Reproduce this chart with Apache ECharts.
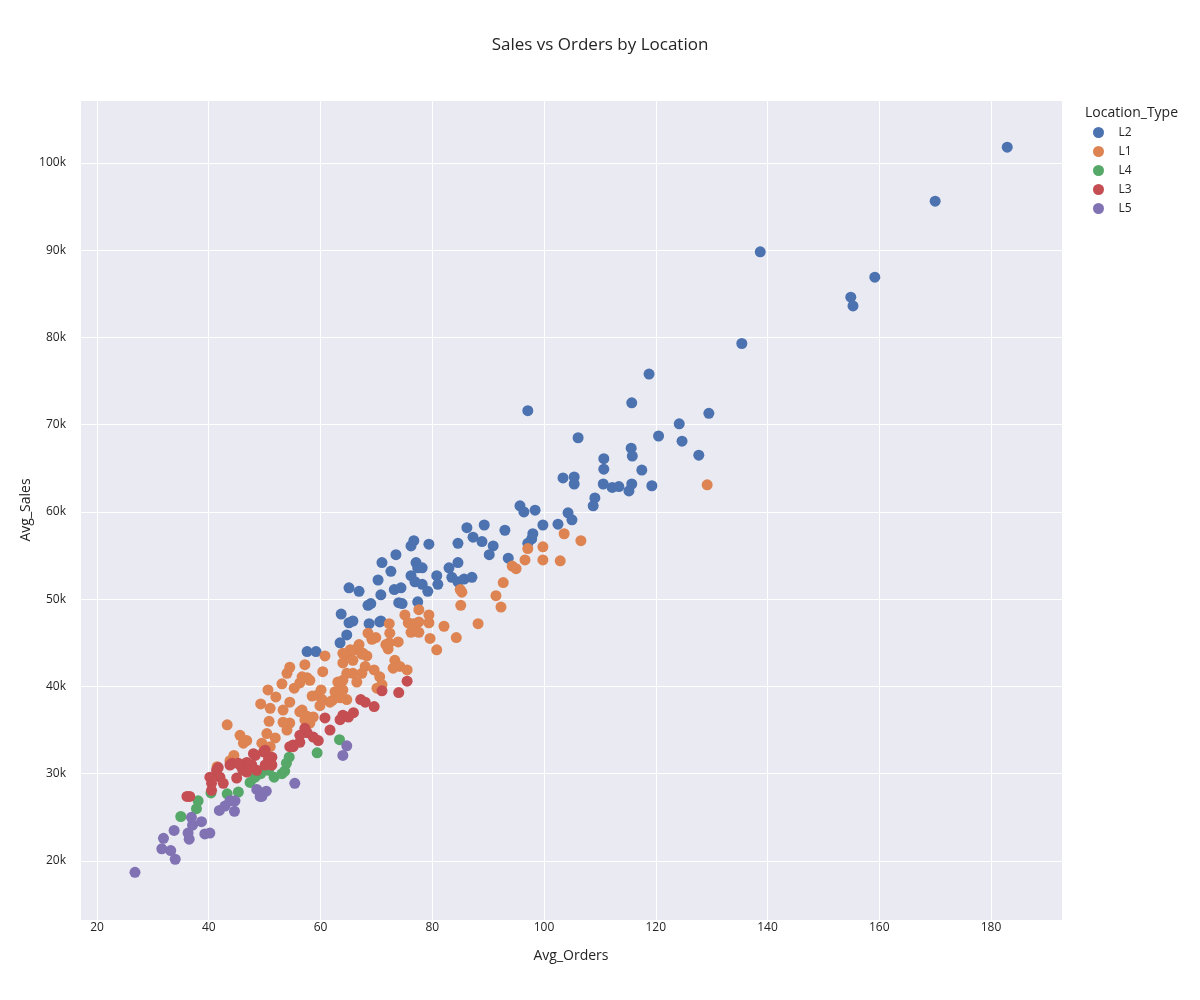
<!DOCTYPE html>
<html>
<head>
<meta charset="utf-8">
<script src="https://cdn.jsdelivr.net/npm/echarts@6/dist/echarts.min.js"></script>
<style>html,body{margin:0;padding:0;background:#fff;}#c{width:1200px;height:1000px;}</style>
</head>
<body>
<div id="c"></div>
<script>
// Location types in legend order
const locationTypes = ['L2', 'L1', 'L4', 'L3', 'L5'];
// Avg_Orders / Avg_Sales (thousands) per location type
const l2Orders = [182.9,170.0,138.7,159.2,154.9,155.3,135.4,118.8,97.1,129.5,115.7,124.2,106.1,120.5,124.7,115.6,115.8,127.7,110.7,110.7,117.5,103.4,105.4,105.4,110.6,112.2,113.4,115.7,115.2,119.3,109.1,108.8,104.3,105.0,102.5,99.8,95.7,96.4,98.4,93.0,98.0,97.8,97.1,93.6,89.3,86.2,87.3,88.9,90.9,90.2,84.6,84.6,83.0,83.5,84.6,85.7,87.1,79.4,76.7,76.2,73.5,71.0,72.6,70.3,77.1,77.4,78.2,76.2,76.9,78.2,79.2,80.8,81.0,73.2,74.4,70.8,74.0,74.6,77.4,70.8,65.1,66.9,68.5,69.0,63.7,65.1,65.8,68.7,70.6,64.7,63.5,57.6,59.2];
const l2Sales = [101.8,95.6,89.8,86.9,84.6,83.6,79.3,75.8,71.6,71.3,72.5,70.1,68.5,68.7,68.1,67.3,66.4,66.5,66.1,64.9,64.8,63.9,64.0,63.2,63.2,62.8,62.9,63.2,62.4,63.0,61.6,60.7,59.9,59.1,58.6,58.5,60.7,60.0,60.2,57.9,57.5,56.9,56.4,54.7,58.5,58.2,57.1,56.6,56.1,55.1,56.4,54.2,53.6,52.5,52.0,52.3,52.5,56.3,56.7,56.1,55.1,54.2,53.2,52.2,54.2,53.6,53.6,52.7,52.0,51.7,50.9,52.7,51.7,51.1,51.3,50.5,49.6,49.5,49.7,47.5,51.3,50.9,49.3,49.5,48.3,47.3,47.5,47.2,47.4,45.9,45.0,44.0,44.0];

const l1Orders = [129.2,106.6,103.6,99.8,97.1,96.6,99.8,102.9,94.3,95.0,92.7,91.4,92.3,85.0,85.3,85.1,88.2,82.1,84.3,77.6,79.4,79.4,75.1,75.7,72.3,76.7,77.6,76.2,77.6,79.6,72.4,80.8,72.3,73.9,72.1,68.5,69.9,69.2,71.7,66.9,66.2,64.7,65.3,67.4,68.3,64.0,65.8,64.0,67.6,60.8,57.2,57.6,58.1,60.4,68.0,69.6,67.4,65.8,64.7,64.0,66.5,63.1,70.6,71.0,70.1,73.3,73.0,74.2,75.5,60.1,59.4,58.5,60.3,62.6,64.0,63.5,64.7,62.1,61.7,59.9,56.7,57.6,58.7,54.0,54.5,53.1,55.3,56.3,56.7,50.6,52.0,49.3,54.5,51.0,53.3,56.3,50.8,53.3,54.5,57.2,58.1,43.3,54.0,51.9,50.4,45.6,49.5,46.2,46.8,51.0,44.5,43.8,41.5];
const l1Sales = [63.1,56.7,57.5,56.0,55.8,54.5,54.5,54.4,53.8,53.5,51.9,50.4,49.1,51.1,50.8,49.3,47.2,46.9,45.6,48.8,48.2,47.3,48.2,47.3,47.2,47.2,47.4,46.2,46.2,45.5,46.1,44.2,45.0,45.1,44.3,46.1,45.6,45.4,44.8,44.8,44.2,43.6,44.2,43.7,43.5,42.7,43.0,43.8,43.8,43.5,42.5,41.0,40.7,41.7,42.3,41.9,41.5,41.5,41.5,40.7,40.5,40.5,41.1,40.2,39.8,43.0,42.1,42.3,41.9,39.6,39.0,38.9,38.5,39.4,39.6,38.7,38.5,38.4,38.2,37.8,37.3,36.6,36.5,41.5,42.2,40.3,39.8,40.4,41.1,39.6,38.8,38.0,38.2,37.5,37.3,37.1,36.0,35.9,35.8,36.2,35.8,35.6,35.0,34.1,34.6,34.4,33.5,33.5,33.8,33.1,32.1,31.5,30.8];

const l4Orders = [35.0,37.8,38.1,40.4,43.3,45.3,47.4,48.3,49.3,50.7,51.7,53.1,53.6,53.9,54.4,59.4,63.4];
const l4Sales = [25.1,26.0,26.9,27.8,27.7,27.9,29.0,29.6,30.0,30.4,29.6,30.0,30.3,31.2,31.9,32.4,33.9];

const l3Orders = [75.5,74.0,71.0,69.6,67.2,68.0,65.9,65.0,64.0,63.5,60.8,61.7,58.7,57.6,57.2,56.3,56.3,55.1,54.5,59.6,50.1,49.8,51.3,50.7,50.1,51.3,48.3,48.0,46.8,46.1,48.6,45.6,44.2,43.8,45.3,46.8,47.7,41.7,41.4,40.2,42.0,40.5,42.6,40.5,45.0,36.1,36.6,55.1];
const l3Sales = [40.6,39.3,39.5,37.7,38.5,38.2,37.0,36.5,36.7,36.2,36.4,35.0,34.2,34.7,35.2,34.4,33.6,33.1,33.1,33.8,32.7,32.5,31.9,31.7,31.0,31.0,32.1,32.3,31.3,30.4,30.4,31.0,31.2,31.0,31.2,30.2,31.0,30.7,30.4,29.6,29.6,28.9,28.9,28.1,29.5,27.4,27.4,33.3];

const l5Orders = [26.8,31.9,31.6,33.2,34.0,33.8,36.3,36.5,36.9,37.1,38.7,39.3,40.2,41.9,42.9,43.8,44.7,44.6,48.6,49.2,49.5,50.3,55.4,64.0,64.7];
const l5Sales = [18.7,22.6,21.4,21.2,20.2,23.5,23.2,22.5,25.0,24.1,24.5,23.1,23.2,25.8,26.3,26.9,26.9,25.7,28.2,27.4,27.4,28.0,28.9,32.1,33.2];

const ordersBy = [l2Orders, l1Orders, l4Orders, l3Orders, l5Orders];
const salesBy = [l2Sales, l1Sales, l4Sales, l3Sales, l5Sales];
const colors = ['#4C72B0', '#DD8452', '#55A868', '#C44E52', '#8172B3'];

const txt = 'rgb(36,36,36)';
const font = '"Open Sans", sans-serif';

const chart = echarts.init(document.getElementById('c'), null, {renderer: 'canvas'});
chart.setOption({
  animation: false,
  backgroundColor: '#ffffff',
  textStyle: {fontFamily: font},
  title: [
    {text: 'Sales vs Orders by Location', left: 'center', top: 37, padding: 0,
     textStyle: {fontFamily: font, fontSize: 17, fontWeight: 'normal', color: txt}},
    {text: 'Location_Type', left: 1085, top: 106, padding: 0,
     textStyle: {fontFamily: font, fontSize: 14, fontWeight: 'normal', color: txt}}
  ],
  legend: {
    orient: 'vertical', left: 1093, top: 126.5, padding: 0,
    itemWidth: 20, itemHeight: 11, itemGap: 7, icon: 'circle',
    data: locationTypes,
    textStyle: {fontFamily: font, fontSize: 12, color: txt, padding: [0, 0, 0, 5]}
  },
  grid: {left: 80, right: 138, top: 100, bottom: 80, show: true, backgroundColor: '#EAEAF2', borderWidth: 0},
  xAxis: {
    type: 'value', min: 16.96, max: 192.7, splitNumber: 9,
    name: 'Avg_Orders', nameLocation: 'middle', nameGap: 29,
    nameTextStyle: {fontFamily: font, fontSize: 14, color: txt},
    axisLine: {show: false}, axisTick: {show: false},
    axisLabel: {showMinLabel: false, showMaxLabel: false, fontFamily: font, fontSize: 12, color: txt, margin: 2},
    splitLine: {show: true, lineStyle: {color: '#ffffff', width: 1}}
  },
  yAxis: {
    type: 'value', min: 13.24, max: 107.2, splitNumber: 10,
    name: 'Avg_Sales', nameLocation: 'middle', nameGap: 47, nameMoveOverlap: false,
    nameTextStyle: {fontFamily: font, fontSize: 14, color: txt},
    axisLine: {show: false}, axisTick: {show: false},
    axisLabel: {showMinLabel: false, showMaxLabel: false, fontFamily: font, fontSize: 12, color: txt, margin: 14,
      formatter: v => v + 'k'},
    splitLine: {show: true, lineStyle: {color: '#ffffff', width: 1}}
  },
  series: locationTypes.map((name, i) => ({
    name: name, type: 'scatter', symbolSize: 11,
    itemStyle: {color: colors[i], opacity: 1},
    data: ordersBy[i].map((x, j) => [x, salesBy[i][j]])
  }))
});
</script>
</body>
</html>
